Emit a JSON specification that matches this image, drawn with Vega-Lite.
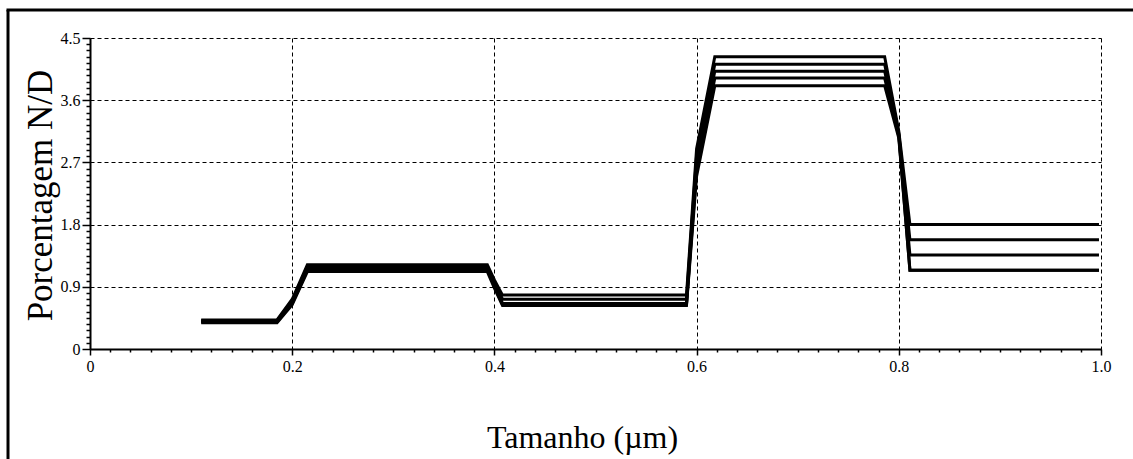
{
  "$schema": "https://vega.github.io/schema/vega-lite/v6.json",
  "width": 1011,
  "height": 311,
  "autosize": {"type": "none"},
  "padding": {"left": 90, "top": 38, "right": 32, "bottom": 110},
  "background": "white",
  "config": {"view": {"stroke": null}, "font": "Liberation Serif"},
  "datasets": {
    "curves": [
      {"s": "A", "x": 0.11, "y": 0.42}, {"s": "A", "x": 0.185, "y": 0.42}, {"s": "A", "x": 0.2, "y": 0.72}, {"s": "A", "x": 0.215, "y": 1.22}, {"s": "A", "x": 0.393, "y": 1.22}, {"s": "A", "x": 0.4, "y": 1.0}, {"s": "A", "x": 0.408, "y": 0.78}, {"s": "A", "x": 0.59, "y": 0.78}, {"s": "A", "x": 0.6, "y": 2.9}, {"s": "A", "x": 0.618, "y": 4.23}, {"s": "A", "x": 0.786, "y": 4.23}, {"s": "A", "x": 0.8, "y": 3.15}, {"s": "A", "x": 0.811, "y": 1.8}, {"s": "A", "x": 0.998, "y": 1.8},
      {"s": "B", "x": 0.11, "y": 0.41}, {"s": "B", "x": 0.185, "y": 0.41}, {"s": "B", "x": 0.2, "y": 0.70}, {"s": "B", "x": 0.215, "y": 1.195}, {"s": "B", "x": 0.393, "y": 1.195}, {"s": "B", "x": 0.4, "y": 0.97}, {"s": "B", "x": 0.408, "y": 0.72}, {"s": "B", "x": 0.59, "y": 0.72}, {"s": "B", "x": 0.6, "y": 2.8}, {"s": "B", "x": 0.618, "y": 4.12}, {"s": "B", "x": 0.786, "y": 4.12}, {"s": "B", "x": 0.8, "y": 3.12}, {"s": "B", "x": 0.811, "y": 1.58}, {"s": "B", "x": 0.998, "y": 1.58},
      {"s": "C", "x": 0.11, "y": 0.40}, {"s": "C", "x": 0.185, "y": 0.40}, {"s": "C", "x": 0.2, "y": 0.68}, {"s": "C", "x": 0.215, "y": 1.17}, {"s": "C", "x": 0.393, "y": 1.17}, {"s": "C", "x": 0.4, "y": 0.94}, {"s": "C", "x": 0.408, "y": 0.66}, {"s": "C", "x": 0.59, "y": 0.66}, {"s": "C", "x": 0.6, "y": 2.7}, {"s": "C", "x": 0.618, "y": 4.02}, {"s": "C", "x": 0.786, "y": 4.02}, {"s": "C", "x": 0.8, "y": 3.1}, {"s": "C", "x": 0.811, "y": 1.36}, {"s": "C", "x": 0.998, "y": 1.36},
      {"s": "D", "x": 0.11, "y": 0.39}, {"s": "D", "x": 0.185, "y": 0.39}, {"s": "D", "x": 0.2, "y": 0.66}, {"s": "D", "x": 0.215, "y": 1.145}, {"s": "D", "x": 0.393, "y": 1.145}, {"s": "D", "x": 0.4, "y": 0.91}, {"s": "D", "x": 0.408, "y": 0.645}, {"s": "D", "x": 0.59, "y": 0.645}, {"s": "D", "x": 0.6, "y": 2.6}, {"s": "D", "x": 0.618, "y": 3.92}, {"s": "D", "x": 0.786, "y": 3.92}, {"s": "D", "x": 0.8, "y": 3.08}, {"s": "D", "x": 0.811, "y": 1.14}, {"s": "D", "x": 0.998, "y": 1.14},
      {"s": "E", "x": 0.11, "y": 0.38}, {"s": "E", "x": 0.185, "y": 0.38}, {"s": "E", "x": 0.2, "y": 0.64}, {"s": "E", "x": 0.215, "y": 1.12}, {"s": "E", "x": 0.393, "y": 1.12}, {"s": "E", "x": 0.4, "y": 0.88}, {"s": "E", "x": 0.408, "y": 0.63}, {"s": "E", "x": 0.59, "y": 0.63}, {"s": "E", "x": 0.6, "y": 2.5}, {"s": "E", "x": 0.618, "y": 3.81}, {"s": "E", "x": 0.786, "y": 3.81}, {"s": "E", "x": 0.8, "y": 3.05}, {"s": "E", "x": 0.811, "y": 1.14}, {"s": "E", "x": 0.998, "y": 1.14}
    ]
  },
  "layer": [
    {
      "data": {"name": "curves"},
      "mark": {"type": "line", "color": "black", "strokeWidth": 3},
      "encoding": {
        "x": {
          "field": "x", "type": "quantitative",
          "scale": {"domain": [0, 1], "nice": false, "zero": false},
          "axis": {
            "title": "Tamanho (µm)",
            "tickCount": 200,
            "values": [0,0.02,0.04,0.06,0.08,0.1,0.12,0.14,0.16,0.18,0.2,0.22,0.24,0.26,0.28,0.3,0.32,0.34,0.36,0.38,0.4,0.42,0.44,0.46,0.48,0.5,0.52,0.54,0.56,0.58,0.6,0.62,0.64,0.66,0.68,0.7,0.72,0.74,0.76,0.78,0.8,0.82,0.84,0.86,0.88,0.9,0.92,0.94,0.96,0.98,1],
            "labelExpr": "abs(datum.value*5-round(datum.value*5))<0.001 ? (datum.value==0 ? '0' : format(datum.value,'.1f')) : ''",
            "labelFont": "Liberation Serif", "labelFontSize": 16, "labelColor": "black",
            "labelPadding": 3, "labelOverlap": false, "labelFlush": false,
            "tickColor": "black", "tickWidth": 1.5,
            "tickSize": {"condition": {"test": "abs(datum.value*5-round(datum.value*5))<0.001", "value": 6}, "value": 3},
            "domainColor": "black", "domainWidth": 2,
            "grid": true, "gridColor": "black", "gridDash": [4, 3], "gridWidth": 1,
            "gridOpacity": {"condition": {"test": "abs(datum.value*5-round(datum.value*5))<0.001", "value": 1}, "value": 0},
            "titleFont": "Liberation Serif", "titleFontSize": 32, "titleFontWeight": "normal", "titleColor": "black",
            "titleX": 492, "titleY": 98, "titleBaseline": "alphabetic", "titleAlign": "center"
          }
        },
        "y": {
          "field": "y", "type": "quantitative",
          "scale": {"domain": [0, 4.5], "nice": false},
          "axis": {
            "title": "Porcentagem N/D",
            "tickCount": 200,
            "values": [0,0.09,0.18,0.27,0.36,0.45,0.54,0.63,0.72,0.81,0.9,0.99,1.08,1.17,1.26,1.35,1.44,1.53,1.62,1.71,1.8,1.89,1.98,2.07,2.16,2.25,2.34,2.43,2.52,2.61,2.7,2.79,2.88,2.97,3.06,3.15,3.24,3.33,3.42,3.51,3.6,3.69,3.78,3.87,3.96,4.05,4.14,4.23,4.32,4.41,4.5],
            "labelExpr": "abs(datum.value/0.9-round(datum.value/0.9))<0.001 ? (datum.value==0 ? '0' : format(datum.value,'.1f')) : ''",
            "labelFont": "Liberation Serif", "labelFontSize": 16, "labelColor": "black",
            "labelPadding": 2, "labelOverlap": false, "labelFlush": false,
            "tickColor": "black", "tickWidth": 1.5,
            "tickSize": {"condition": {"test": "abs(datum.value/0.9-round(datum.value/0.9))<0.001", "value": 8}, "value": 4},
            "domainColor": "black", "domainWidth": 2,
            "grid": true, "gridColor": "black", "gridDash": [4, 3], "gridWidth": 1,
            "gridOpacity": {"condition": {"test": "abs(datum.value/0.9-round(datum.value/0.9))<0.001", "value": 1}, "value": 0},
            "titleFont": "Liberation Serif", "titleFontSize": 35, "titleFontWeight": "normal", "titleColor": "black",
            "titleAngle": -90, "titleX": -50, "titleY": 157, "titleBaseline": "middle", "titleAlign": "center"
          }
        },
        "detail": {"field": "s", "type": "nominal"}
      }
    },
    {
      "data": {"values": [{}]},
      "mark": {"type": "rule", "color": "black", "strokeWidth": 3},
      "encoding": {
        "x": {"datum": -0.0811, "type": "quantitative"},
        "y": {"datum": 4.905, "type": "quantitative"},
        "y2": {"datum": -1.7}
      }
    },
    {
      "data": {"values": [{}]},
      "mark": {"type": "rule", "color": "black", "strokeWidth": 3},
      "encoding": {
        "x": {"datum": -0.0826, "type": "quantitative"},
        "x2": {"datum": 1.1},
        "y": {"datum": 4.905, "type": "quantitative"}
      }
    }
  ]
}
